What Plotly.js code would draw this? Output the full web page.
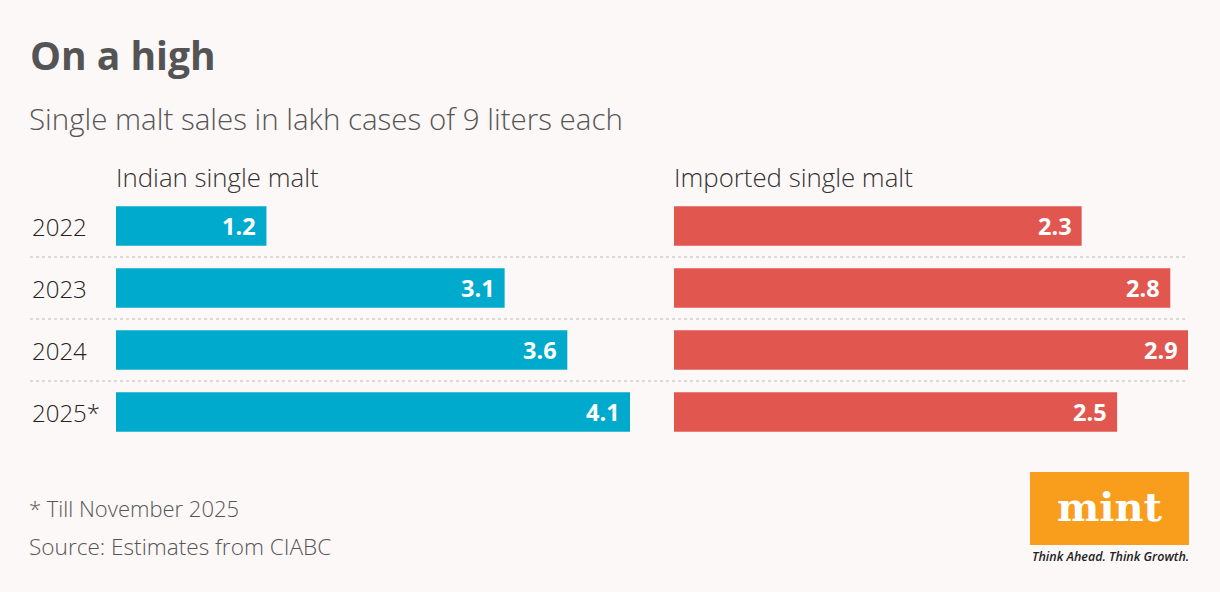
<!DOCTYPE html>
<html>
<head>
<meta charset="utf-8">
<script src="https://cdn.plot.ly/plotly-3.0.1.min.js"></script>
<style>html,body{margin:0;padding:0;background:#fdf8f8;}#chart{width:1220px;height:592px;}</style>
</head>
<body>
<div id="chart"></div>
<script>
const years = ["2022", "2023", "2024", "2025*"];
const indian = [1.2, 3.1, 3.6, 4.1];
const imported = [2.3, 2.8, 2.9, 2.5];
const indianLabel = "Indian single malt";
const importedLabel = "Imported single malt";

const W = 1220, H = 592;
const px = v => v / W;
const py = v => 1 - v / H;

const data = [
  {type: "bar", orientation: "h", x: indian, y: years, xaxis: "x", yaxis: "y",
   marker: {color: "#00aacd"}, width: 0.64, hoverinfo: "none"},
  {type: "bar", orientation: "h", x: imported, y: years, xaxis: "x2", yaxis: "y",
   marker: {color: "#e1574f"}, width: 0.64, hoverinfo: "none"}
];

const annotations = [];
const valFont = {family: "Open Sans", size: 23.5, color: "#ffffff", weight: 700};
indian.forEach((v, i) => annotations.push({x: v, y: i, xref: "x", yref: "y",
  text: v.toFixed(1), showarrow: false, xanchor: "right", xshift: -8, font: valFont}));
imported.forEach((v, i) => annotations.push({x: v, y: i, xref: "x2", yref: "y",
  text: v.toFixed(1), showarrow: false, xanchor: "right", xshift: -8, font: valFont}));
years.forEach((yr, i) => annotations.push({x: px(30), y: i, xref: "paper", yref: "y",
  text: yr, showarrow: false, xanchor: "left",
  font: {family: "Open Sans", size: 24, color: "#222", weight: 300}}));

const txt = (x, y, text, font, xa, ya) => ({x: px(x), y: py(y), xref: "paper", yref: "paper",
  text, showarrow: false, xanchor: xa || "left", yanchor: ya || "middle", font});

annotations.push(txt(28, 54, "On a high", {family: "Open Sans", size: 39, color: "#545454", weight: 700}));
annotations.push(txt(27, 119, "Single malt sales in lakh cases of 9 liters each", {family: "Open Sans", size: 29.5, color: "#555", weight: 300}));
annotations.push(txt(114, 177, indianLabel, {family: "Open Sans", size: 25.8, color: "#333", weight: 300}));
annotations.push(txt(672, 177, importedLabel, {family: "Open Sans", size: 25.8, color: "#333", weight: 300}));
annotations.push(txt(27, 508, "* Till November 2025", {family: "Open Sans", size: 22, color: "#555", weight: 300}));
annotations.push(txt(27, 546, "Source: Estimates from CIABC", {family: "Open Sans", size: 22.6, color: "#555", weight: 300}));
annotations.push(txt(1110, 506, "mint", {family: "DejaVu Serif", size: 40, color: "#ffffff", weight: 700}, "center"));
annotations.push(txt(1110, 556, "<i>Think Ahead. Think Growth.</i>", {family: "Open Sans", size: 12.5, color: "#222", weight: 600}, "center"));

const shapes = [0.5, 1.5, 2.5].map(v => ({type: "line", xref: "paper", yref: "y",
  x0: px(30), x1: px(1188), y0: v, y1: v, line: {color: "#cfcfcf", width: 1.5, dash: "dot"}}));
shapes.push({type: "rect", xref: "paper", yref: "paper", x0: px(1030), x1: px(1189),
  y0: py(545), y1: py(472), fillcolor: "#f99d1c", line: {width: 0}});

const axisBase = {showgrid: false, zeroline: false, showticklabels: false, showline: false, ticks: "", fixedrange: true};

const layout = {
  width: W, height: H,
  margin: {l: 0, r: 0, t: 0, b: 0},
  paper_bgcolor: "#fdf8f8", plot_bgcolor: "rgba(0,0,0,0)",
  showlegend: false,
  xaxis: Object.assign({}, axisBase, {domain: [px(116), px(630)], range: [0, 4.1]}),
  xaxis2: Object.assign({}, axisBase, {domain: [px(674), px(1188)], range: [0, 2.9], anchor: "y"}),
  yaxis: Object.assign({}, axisBase, {domain: [1 - 443/H, 1 - 195/H], range: [3.5, -0.5],
    type: "category", categoryorder: "array", categoryarray: years}),
  annotations, shapes
};

Plotly.newPlot("chart", data, layout, {displayModeBar: false, staticPlot: true});
</script>
</body>
</html>
